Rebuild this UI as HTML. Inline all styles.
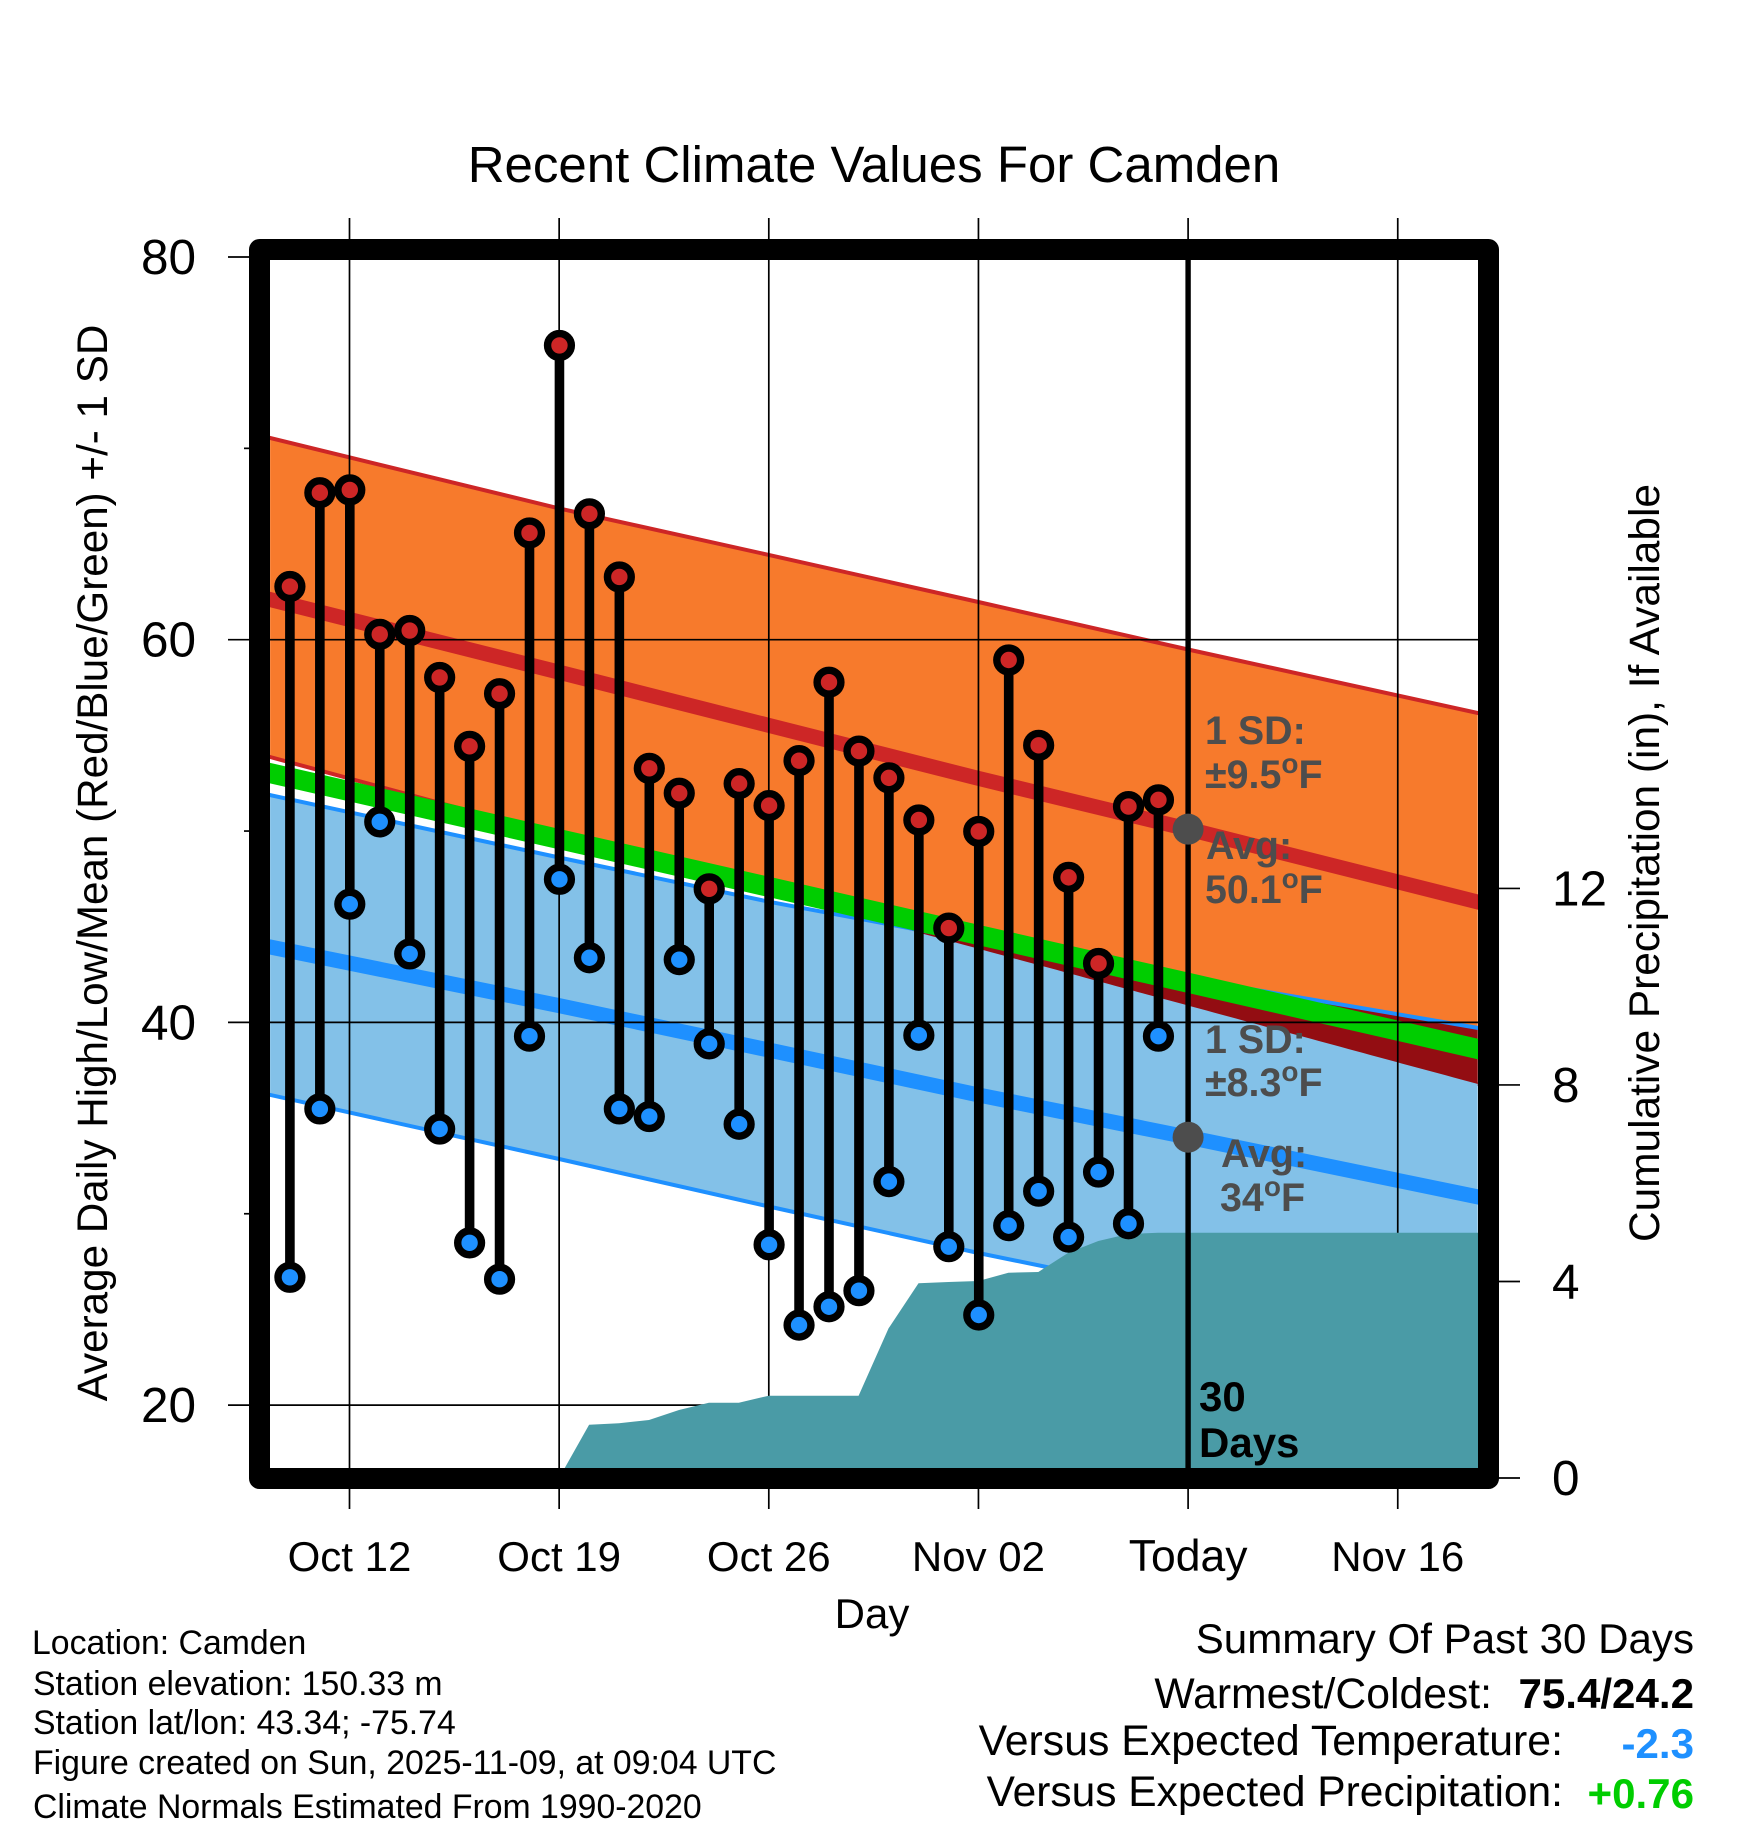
<!DOCTYPE html>
<html lang="en">
<head>
<meta charset="utf-8">
<title>Recent Climate Values For Camden</title>
<style>
html,body{margin:0;padding:0;background:#fff;}
svg{display:block;font-family:"Liberation Sans",Arial,Helvetica,sans-serif;}
</style>
</head>
<body>
<svg id="chart" xmlns="http://www.w3.org/2000/svg" width="1748" height="1828" viewBox="0 0 1748 1828">
  <defs>
    <clipPath id="plot-clip"><rect x="270" y="260" width="1208" height="1208"/></clipPath>
  </defs>
  <rect x="0" y="0" width="1748" height="1828" fill="#fff"/>
  <g id="plot" clip-path="url(#plot-clip)"></g>
  <g id="marks"></g>
  <rect x="259.5" y="249.5" width="1229" height="1229" fill="none" stroke="#000" stroke-width="21" stroke-linejoin="round"/>
  <g id="axes"></g>

  <text x="874" y="182" text-anchor="middle" font-size="51">Recent Climate Values For Camden</text>
  <text transform="translate(107,863) rotate(-90)" text-anchor="middle" font-size="42.2">Average Daily High/Low/Mean (Red/Blue/Green) +/- 1 SD</text>
  <text transform="translate(1659,863) rotate(-90)" text-anchor="middle" font-size="42.4">Cumulative Precipitation (in), If Available</text>
  <text x="872" y="1628" text-anchor="middle" font-size="42">Day</text>

  <g font-weight="bold" font-size="39.4" fill="#4d4d4d">
    <text x="1205" y="744">1 SD:</text>
    <text x="1205" y="788">±9.5<tspan dy="-15" font-size="28">o</tspan><tspan dy="15">F</tspan></text>
    <text x="1206" y="859">Avg:</text>
    <text x="1205" y="903">50.1<tspan dy="-15" font-size="28">o</tspan><tspan dy="15">F</tspan></text>
  </g>
  <g font-weight="bold" font-size="39.4" fill="#4d4d4d">
    <text x="1205" y="1053">1 SD:</text>
    <text x="1205" y="1096">±8.3<tspan dy="-15" font-size="28">o</tspan><tspan dy="15">F</tspan></text>
    <text x="1221" y="1167">Avg:</text>
    <text x="1220" y="1211">34<tspan dy="-15" font-size="28">o</tspan><tspan dy="15">F</tspan></text>
  </g>
  <g font-weight="bold" font-size="42" fill="#000">
    <text x="1199" y="1411">30</text>
    <text x="1199" y="1457">Days</text>
  </g>

  <g font-size="33.8">
    <text x="32" y="1654">Location: Camden</text>
    <text x="33" y="1695">Station elevation: 150.33 m</text>
    <text x="33" y="1734">Station lat/lon: 43.34; -75.74</text>
    <text x="33" y="1774">Figure created on Sun, 2025-11-09, at 09:04 UTC</text>
    <text x="33" y="1818">Climate Normals Estimated From 1990-2020</text>
  </g>
  <g font-size="42.1" text-anchor="end">
    <text x="1694" y="1653">Summary Of Past 30 Days</text>
    <text x="1492" y="1708" font-size="42.7">Warmest/Coldest:</text>
    <text x="1694" y="1708" font-weight="bold">75.4/24.2</text>
    <text x="1563" y="1755" font-size="42.8">Versus Expected Temperature:</text>
    <text x="1694" y="1758" font-weight="bold" fill="#1e90ff">-2.3</text>
    <text x="1563" y="1806" font-size="42.5">Versus Expected Precipitation:</text>
    <text x="1694" y="1808" font-weight="bold" fill="#00cd00">+0.76</text>
  </g>
</svg>
<script>
// Daily observations, Oct 10 through Nov 8
const dates = ['Oct 10','Oct 11','Oct 12','Oct 13','Oct 14','Oct 15','Oct 16','Oct 17','Oct 18','Oct 19','Oct 20','Oct 21','Oct 22','Oct 23','Oct 24','Oct 25','Oct 26','Oct 27','Oct 28','Oct 29','Oct 30','Oct 31','Nov 01','Nov 02','Nov 03','Nov 04','Nov 05','Nov 06','Nov 07','Nov 08'];
const dailyHigh = [62.8,67.7,67.85,60.3,60.5,58.05,54.45,57.2,65.6,75.4,66.6,63.3,53.3,52.0,47.0,52.5,51.35,53.7,57.8,54.2,52.8,50.6,44.95,50.0,58.96,54.5,47.6,43.1,51.3,51.65];
const dailyLow = [26.7,35.5,46.2,50.5,43.6,34.45,28.5,26.6,39.3,47.5,43.4,35.5,35.1,43.3,38.9,34.7,28.4,24.2,25.16,26.0,31.7,39.35,28.3,24.73,29.4,31.2,28.8,32.2,29.5,39.3];
const cumulativePrecip = [0,0,0,0,0,0,0,0,0,0,1.085,1.113,1.18,1.384,1.533,1.533,1.675,1.675,1.675,1.675,3.047,3.963,3.989,4.01,4.179,4.193,4.586,4.824,4.966,4.993];

// Climate normals, at day offsets from Oct 12
const normalDays = [-2.65,7,14,21,28,37.67];
const highUpper = [70.54,66.86,64.43,61.97,59.49,56.17];
const highMean = [62.1,58.3,55.52,52.75,50.1,46.29];
const highLower = [53.87,49.78,46.81,43.85,40.88,36.78];
const overallMean = [53.03,49.58,47.08,44.57,42.07,38.61];
const lowUpper = [51.88,48.62,46.31,44.25,42.3,39.71];
const lowMean = [43.94,40.88,38.56,36.21,34.0,30.88];
const lowLower = [36.21,32.86,30.38,27.95,25.7,22.36];

// Axis ticks
const xTickDays = [0,7,14,21,28,35];
const xTickLabels = ['Oct 12','Oct 19','Oct 26','Nov 02','Today','Nov 16'];
const yMajorTicks = [80,60,40,20];
const yMinorTicks = [70,50,30];
const precipTicks = [0,4,8,12];
const todayDay = 28;
const todayHighMean = 50.1;
const todayLowMean = 34.0;

const NS = 'http://www.w3.org/2000/svg';
const plot = document.getElementById('plot');
const marks = document.getElementById('marks');
const axes = document.getElementById('axes');
const xDay = d => 349.5 + 29.95 * d;
const yTemp = t => 257 + (80 - t) * 19.135;
const yPrecip = p => 1478 - p * 49.13;
const firstDay = -2;
const edgeLeft = 270, edgeRight = 1478;
const markNudge = 0.4;

function mk(tag, attrs, parent) {
  const el = document.createElementNS(NS, tag);
  for (const k in attrs) el.setAttribute(k, attrs[k]);
  parent.appendChild(el);
  return el;
}
const pts = (days, vals) => days.map((d, i) => xDay(d).toFixed(1) + ',' + yTemp(vals[i]).toFixed(1));
// Value of a normals series at x day by piecewise interpolation
function valueAt(vals, d) {
  for (let i = 0; i < normalDays.length - 1; i++) {
    if (d <= normalDays[i + 1]) {
      const f = (d - normalDays[i]) / (normalDays[i + 1] - normalDays[i]);
      return vals[i] + f * (vals[i + 1] - vals[i]);
    }
  }
  return vals[vals.length - 1];
}

// High band
const highBand = mk('polygon', {points: pts(normalDays, highUpper).concat(pts(normalDays, highLower).reverse()).join(' '), fill: '#f77a2c'}, plot);


const highUpperLine = mk('polyline', {points: pts(normalDays, highUpper).join(' '), fill: 'none', stroke: '#cd2626', 'stroke-width': 4, 'stroke-linecap': 'square'}, plot);


const highLowerLine = mk('polyline', {points: pts(normalDays, highLower).join(' '), fill: 'none', stroke: '#cd2626', 'stroke-width': 4, 'stroke-linecap': 'square'}, plot);


const highMeanLine = mk('polyline', {points: pts(normalDays, highMean).join(' '), fill: 'none', stroke: '#cd2626', 'stroke-width': 15, 'stroke-linecap': 'square'}, plot);



// Low band
const lowBand = mk('polygon', {points: pts(normalDays, lowUpper).concat(pts(normalDays, lowLower).reverse()).join(' '), fill: '#83c1e8'}, plot);



// Overlap of the two bands, sampled along the day axis
const overlapTop = [], overlapBottom = [];
for (let d = normalDays[0]; d <= normalDays[normalDays.length - 1] + 0.001; d += 0.25) {
  const top = valueAt(lowUpper, d), bottom = valueAt(highLower, d);
  if (top > bottom) {
    overlapTop.push(xDay(d).toFixed(1) + ',' + yTemp(top).toFixed(1));
    overlapBottom.push(xDay(d).toFixed(1) + ',' + yTemp(bottom).toFixed(1));
  }
}
overlapTop.push(xDay(normalDays[5]).toFixed(1) + ',' + yTemp(lowUpper[5]).toFixed(1));
overlapBottom.push(xDay(normalDays[5]).toFixed(1) + ',' + yTemp(highLower[5]).toFixed(1));
const overlap = mk('polygon', {points: overlapTop.concat(overlapBottom.reverse()).join(' '), fill: '#930d12'}, plot);



const lowUpperLine = mk('polyline', {points: pts(normalDays, lowUpper).join(' '), fill: 'none', stroke: '#1e90ff', 'stroke-width': 4, 'stroke-linecap': 'square'}, plot);


const lowLowerLine = mk('polyline', {points: pts(normalDays, lowLower).join(' '), fill: 'none', stroke: '#1e90ff', 'stroke-width': 4, 'stroke-linecap': 'square'}, plot);


const lowMeanLine = mk('polyline', {points: pts(normalDays, lowMean).join(' '), fill: 'none', stroke: '#1e90ff', 'stroke-width': 15, 'stroke-linecap': 'square'}, plot);


const meanLine = mk('polyline', {points: pts(normalDays, overallMean).join(' '), fill: 'none', stroke: '#00cd00', 'stroke-width': 20, 'stroke-linecap': 'square'}, plot);



// Grid lines inside the plot
yMajorTicks.forEach(t => {
  const g = mk('line', {x1: edgeLeft, x2: edgeRight, y1: yTemp(t), y2: yTemp(t), stroke: '#000', 'stroke-width': 1.7}, plot);
  
  
});
xTickDays.forEach(d => {
  const g = mk('line', {x1: xDay(d), x2: xDay(d), y1: 260, y2: 1468, stroke: '#000', 'stroke-width': 1.7}, plot);
  
  
});

// Cumulative precipitation area
const precipPts = cumulativePrecip.map((p, i) => xDay(firstDay + i).toFixed(1) + ',' + yPrecip(p).toFixed(1));
precipPts.push(edgeRight + ',' + yPrecip(cumulativePrecip[cumulativePrecip.length - 1]).toFixed(1));
precipPts.push(edgeRight + ',' + yPrecip(0));
precipPts.push(xDay(firstDay).toFixed(1) + ',' + yPrecip(0));
const precipArea = mk('polygon', {points: precipPts.join(' '), fill: '#4a9ba6'}, plot);



// Today line and mean dots
const todayLine = mk('line', {x1: xDay(todayDay), x2: xDay(todayDay), y1: 260, y2: 1468, stroke: '#000', 'stroke-width': 5.4}, marks);


const todayHighDot = mk('circle', {cx: xDay(todayDay), cy: yTemp(todayHighMean), r: 15.5, fill: '#4d4d4d'}, marks);


const todayLowDot = mk('circle', {cx: xDay(todayDay), cy: yTemp(todayLowMean), r: 15.5, fill: '#4d4d4d'}, marks);



// Daily stems and markers
dates.forEach((date, i) => {
  const x = xDay(firstDay + i) + 0.3;
  const stem = mk('line', {x1: x, x2: x, y1: yTemp(dailyHigh[i]) + markNudge, y2: yTemp(dailyLow[i]) + markNudge, stroke: '#000', 'stroke-width': 9.6}, marks);
  
  
  const hi = mk('circle', {cx: x, cy: yTemp(dailyHigh[i]) + markNudge, r: 11.9, fill: '#cd2626', stroke: '#000', 'stroke-width': 7.4}, marks);
  
  
  const lo = mk('circle', {cx: x, cy: yTemp(dailyLow[i]) + markNudge, r: 11.9, fill: '#1e90ff', stroke: '#000', 'stroke-width': 7.4}, marks);
  
  
});

// Axes
xTickDays.forEach((d, i) => {
  const top = mk('line', {x1: xDay(d), x2: xDay(d), y1: 218, y2: 240, stroke: '#000', 'stroke-width': 1.7}, axes);
  
  
  const bot = mk('line', {x1: xDay(d), x2: xDay(d), y1: 1488, y2: 1509, stroke: '#000', 'stroke-width': 1.7}, axes);
  
  
  const isToday = d === todayDay;
  const lab = mk('text', {x: xDay(d), y: 1571, 'text-anchor': 'middle', 'font-size': isToday ? 44.5 : 42}, axes);
  lab.textContent = xTickLabels[i];
  
  
});
yMajorTicks.forEach(t => {
  const tick = mk('line', {x1: 228, x2: 250, y1: yTemp(t), y2: yTemp(t), stroke: '#000', 'stroke-width': 1.7}, axes);
  
  
  const lab = mk('text', {x: 196, y: yTemp(t) + 17, 'text-anchor': 'end', 'font-size': 49.5}, axes);
  lab.textContent = t;
  
  
});
yMinorTicks.forEach(t => {
  const tick = mk('line', {x1: 244, x2: 250, y1: yTemp(t), y2: yTemp(t), stroke: '#000', 'stroke-width': 1.7}, axes);
  
  
});
precipTicks.forEach(p => {
  const tick = mk('line', {x1: 1498, x2: 1520, y1: yPrecip(p), y2: yPrecip(p), stroke: '#000', 'stroke-width': 1.7}, axes);
  
  
  const lab = mk('text', {x: 1552, y: yPrecip(p) + 17, 'font-size': 49.5}, axes);
  lab.textContent = p;
  
  
});
</script>
</body>
</html>
